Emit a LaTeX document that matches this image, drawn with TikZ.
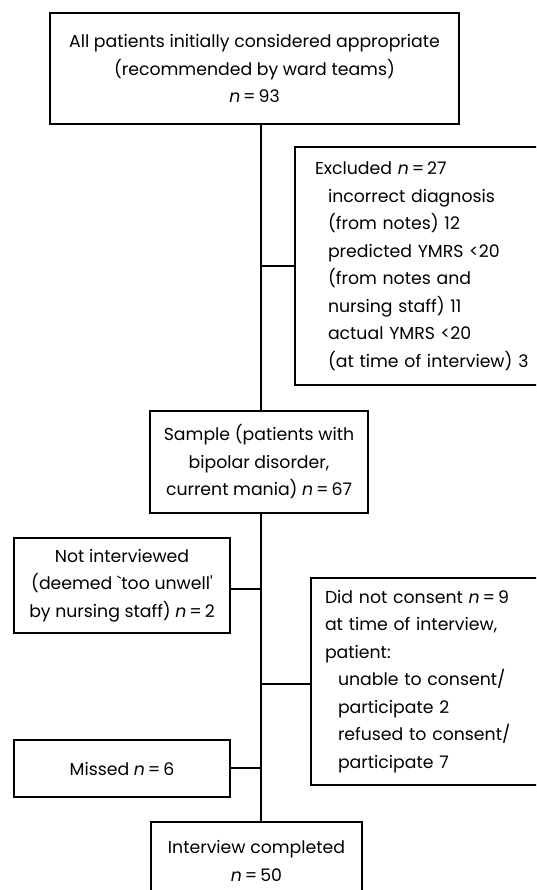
\documentclass[tikz,border=0pt]{standalone}
\usepackage{fontspec}
\setmainfont{Poppins}
\usepackage{tikz}
\usetikzlibrary{positioning}
\tikzset{box/.style={rectangle,draw,line width=1.8pt,outer sep=0pt,inner sep=0pt,align=center,
    font=\fontsize{17.3}{27.5}\selectfont},
  lbox/.style={box,align=left,anchor=north west}}
\newcommand{\nn}[1]{\textit{n}\,=\,#1}
\newcommand{\ind}{\hspace*{13pt}}

\begin{document}
\begin{tikzpicture}[x=1pt,y=-1pt,line width=1.8pt]
    \useasboundingbox (0,0) rectangle (536,890);
    \clip (0,0) rectangle (536,890);

    \node[box,minimum width=409,minimum height=111] (top) at (254.5,68.5)
        {All patients initially considered appropriate\\(recommended by ward teams)\\\nn{93}};
    \node[lbox,minimum height=238,inner xsep=20pt,text width=250pt] (excl) at (295,147)
        {Excluded \nn{27}\\\ind incorrect diagnosis\\\ind (from notes) 12\\\ind predicted YMRS <20\\
         \ind (from notes and\\\ind nursing staff) 11\\\ind actual YMRS <20\\\ind (at time of interview) 3};
    \node[box,minimum width=218,minimum height=102] (sample) at (259,462)
        {Sample (patients with\\bipolar disorder,\\current mania) \nn{67}};
    \node[box,minimum width=216,minimum height=95] (notint) at (122,585.5)
        {Not interviewed\\(deemed \textasciigrave{}too unwell\textquotesingle\\by nursing staff) \nn{2}};
    \node[lbox,minimum height=207,inner xsep=14pt,text width=250pt] (consent) at (311,578)
        {Did not consent \nn{9}\\at time of interview,\\patient:\\\ind unable to consent/\\\ind participate 2\\
         \ind refused to consent/\\\ind participate 7};
    \node[box,minimum width=216,minimum height=57] (missed) at (122,768.5) {Missed \nn{6}};
    \node[box,minimum width=211,minimum height=78,anchor=north] (inter) at (256.5,822)
        {Interview completed\\\nn{50}};

    \coordinate (b1) at (261,266);
    \coordinate (b2) at (261,589);
    \coordinate (b3) at (261,684);
    \coordinate (b4) at (261,768);

    \draw [] (top.south -| b1) to [] (sample.north -| b1);
    \draw [] (b1) to [] (excl.west |- b1);
    \draw [] (sample.south -| b1) to [] (inter.north -| b1);
    \draw [] (b2) to [] (notint.east |- b2);
    \draw [] (b3) to [] (consent.west |- b3);
    \draw [] (b4) to [] (missed.east |- b4);
\end{tikzpicture}
\end{document}
